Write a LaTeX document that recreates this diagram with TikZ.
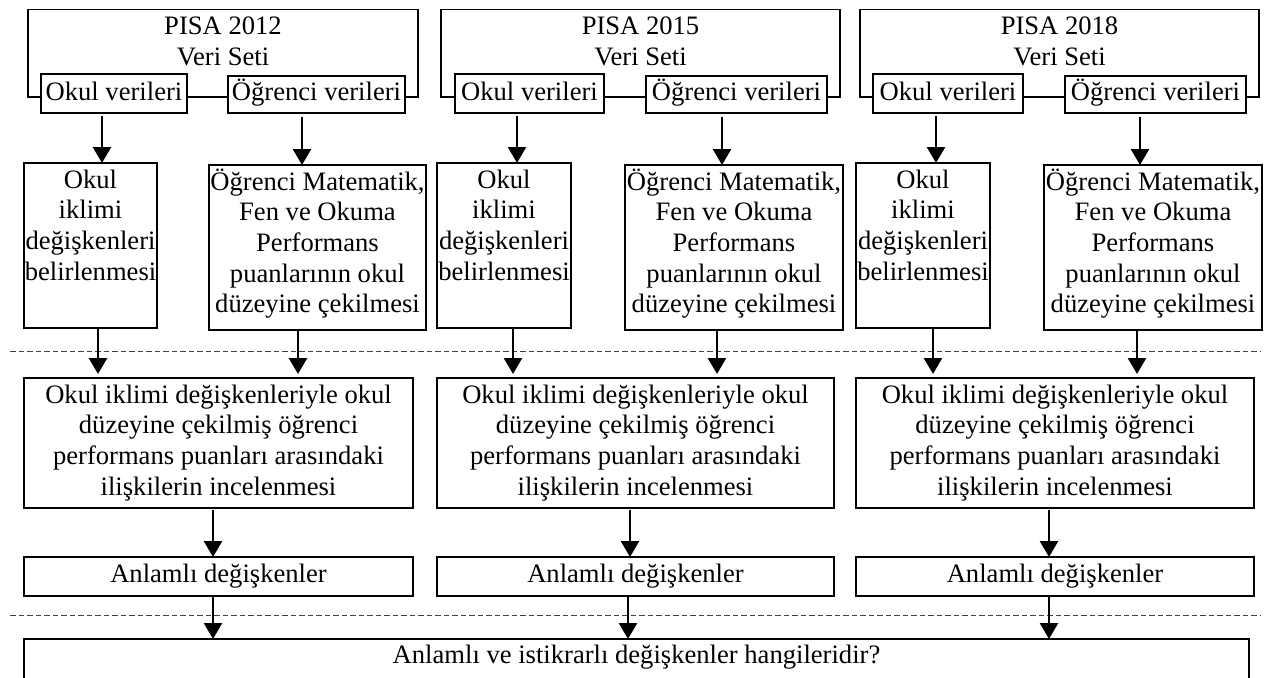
\documentclass[tikz,border=0pt]{standalone}
\usepackage{fontspec}
\setmainfont{Liberation Serif}
\usetikzlibrary{arrows.meta}
\newcommand\bxt[4]{\parbox[c][#2pt][t]{#1pt}{\centering\rule{0pt}{#3pt}#4}}
\begin{document}
\begin{tikzpicture}[x=1pt,y=-1pt,
  every node/.style={font=\fontsize{26.6}{30.7}\selectfont},
  bx/.style={draw, line width=1.8pt, fill=white, inner sep=0pt, outer sep=0pt, anchor=north west},
  frm/.style={draw, line width=1.8pt, inner sep=0pt, outer sep=0pt, anchor=north west},
  arr/.style={line width=2.6pt, -{Triangle[width=18pt,length=16pt]}},
  sep/.style={line width=1pt, dash pattern=on 5.5pt off 3pt, draw=black!75}]
\useasboundingbox (0,0) rectangle (1271,677);
\clip (0,0) rectangle (1271,677);

% dashed separators
\coordinate (s1l) at (10,351);  \coordinate (s1r) at (1260,351);
\coordinate (s2l) at (10,615);  \coordinate (s2r) at (1260,615);
\draw[sep] (s1l) -- (s1r);
\draw[sep] (s2l) -- (s2r);

% column 1
\node[frm] (f1) at (28,9.5) {\bxt{390}{87.5}{25.5}{PISA 2012\\Veri Seti}};
\node[bx] (ov1) at (41,74) {\bxt{146}{39}{26}{Okul verileri}};
\node[bx] (sv1) at (228,76) {\bxt{177}{37}{24.6}{Öğrenci verileri}};
\node[bx] (oi1) at (24,163) {\bxt{133}{165}{25}{Okul\\iklimi\\değişkenleri\\belirlenmesi}};
\node[bx] (pm1) at (209,165) {\bxt{217}{165}{25}{Öğrenci Matematik,\\Fen ve Okuma\\Performans\\puanlarının okul\\düzeyine çekilmesi}};
\node[bx] (ii1) at (24,378) {\bxt{389}{130}{25}{Okul iklimi değişkenleriyle okul\\düzeyine çekilmiş öğrenci\\performans puanları arasındaki\\ilişkilerin incelenmesi}};
\node[bx] (an1) at (24,557) {\bxt{389}{39}{25}{Anlamlı değişkenler}};

% column 2
\node[frm] (f2) at (441,9.5) {\bxt{399}{87.5}{25.5}{PISA 2015\\Veri Seti}};
\node[bx] (ov2) at (455,74) {\bxt{149}{39}{26}{Okul verileri}};
\node[bx] (sv2) at (646,76) {\bxt{181}{37}{24.6}{Öğrenci verileri}};
\node[bx] (oi2) at (437,163) {\bxt{134}{165}{25}{Okul\\iklimi\\değişkenleri\\belirlenmesi}};
\node[bx] (pm2) at (625,165) {\bxt{218}{165}{25}{Öğrenci Matematik,\\Fen ve Okuma\\Performans\\puanlarının okul\\düzeyine çekilmesi}};
\node[bx] (ii2) at (437,378) {\bxt{397}{130}{25}{Okul iklimi değişkenleriyle okul\\düzeyine çekilmiş öğrenci\\performans puanları arasındaki\\ilişkilerin incelenmesi}};
\node[bx] (an2) at (437,557) {\bxt{397}{39}{25}{Anlamlı değişkenler}};

% column 3
\node[frm] (f3) at (860,9.5) {\bxt{399}{87.5}{25.5}{PISA 2018\\Veri Seti}};
\node[bx] (ov3) at (873,74) {\bxt{150}{39}{26}{Okul verileri}};
\node[bx] (sv3) at (1065,76) {\bxt{181}{37}{24.6}{Öğrenci verileri}};
\node[bx] (oi3) at (856,163) {\bxt{134}{165}{25}{Okul\\iklimi\\değişkenleri\\belirlenmesi}};
\node[bx] (pm3) at (1044,165) {\bxt{218}{165}{25}{Öğrenci Matematik,\\Fen ve Okuma\\Performans\\puanlarının okul\\düzeyine çekilmesi}};
\node[bx] (ii3) at (856,378) {\bxt{398}{130}{25}{Okul iklimi değişkenleriyle okul\\düzeyine çekilmiş öğrenci\\performans puanları arasındaki\\ilişkilerin incelenmesi}};
\node[bx] (an3) at (856,557) {\bxt{398}{39}{25}{Anlamlı değişkenler}};

% bottom box
\node[bx] (q) at (24,639) {\bxt{1225}{70}{24}{Anlamlı ve istikrarlı değişkenler hangileridir?}};

% arrows column 1
\draw[arr, shorten <=3pt] (ov1.south -| 102,0) -- (oi1.north -| 102,0);
\draw[arr, shorten <=4pt] (sv1.south -| 302,0) -- (pm1.north -| 302,0);
\draw[arr, shorten >=4pt] (oi1.south -| 98,0) -- (ii1.north -| 98,0);
\draw[arr, shorten >=4pt] (pm1.south -| 298,0) -- (ii1.north -| 298,0);
\draw[arr, shorten <=2pt] (ii1.south -| 213,0) -- (an1.north -| 213,0);
\draw[arr] (an1.south -| 213,0) -- (q.north -| 213,0);

% arrows column 2
\draw[arr, shorten <=3pt] (ov2.south -| 517,0) -- (oi2.north -| 517,0);
\draw[arr, shorten <=4pt] (sv2.south -| 722,0) -- (pm2.north -| 722,0);
\draw[arr, shorten >=4pt] (oi2.south -| 513,0) -- (ii2.north -| 513,0);
\draw[arr, shorten >=4pt] (pm2.south -| 717,0) -- (ii2.north -| 717,0);
\draw[arr, shorten <=2pt] (ii2.south -| 630,0) -- (an2.north -| 630,0);
\draw[arr] (an2.south -| 628,0) -- (q.north -| 628,0);

% arrows column 3
\draw[arr, shorten <=3pt] (ov3.south -| 936,0) -- (oi3.north -| 936,0);
\draw[arr, shorten <=4pt] (sv3.south -| 1140,0) -- (pm3.north -| 1140,0);
\draw[arr, shorten >=4pt] (oi3.south -| 933,0) -- (ii3.north -| 933,0);
\draw[arr, shorten >=4pt] (pm3.south -| 1137,0) -- (ii3.north -| 1137,0);
\draw[arr, shorten <=2pt] (ii3.south -| 1049,0) -- (an3.north -| 1049,0);
\draw[arr] (an3.south -| 1049,0) -- (q.north -| 1049,0);
\end{tikzpicture}
\end{document}
